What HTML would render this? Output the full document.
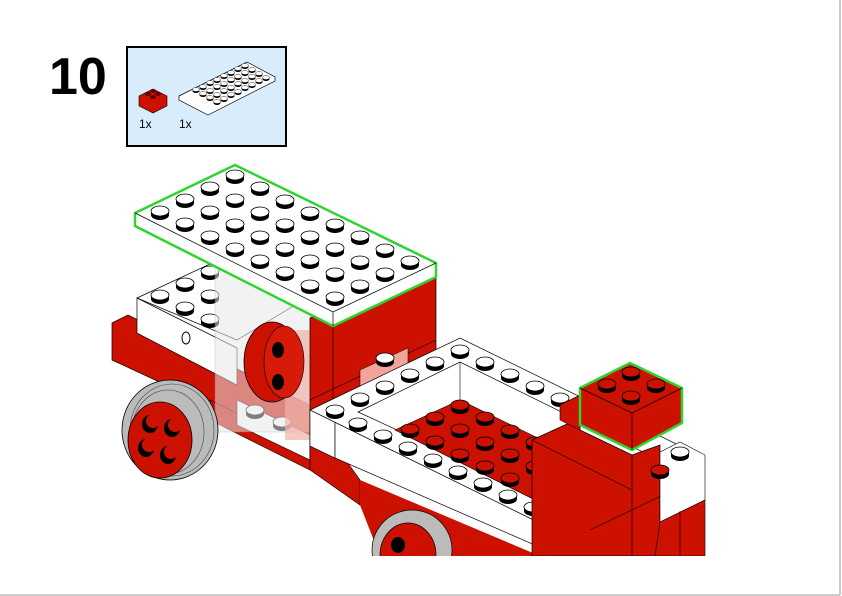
<!DOCTYPE html>
<html><head><meta charset="utf-8"><style>
html,body{margin:0;padding:0;background:#fff;}
body{width:842px;height:596px;overflow:hidden;position:relative;font-family:"Liberation Sans",sans-serif;}
</style></head><body>
<svg width="842" height="596" viewBox="0 0 842 596" xmlns="http://www.w3.org/2000/svg" style="position:absolute;left:0;top:0">
<defs>
<g id="sw"><ellipse cx="0" cy="4" rx="9" ry="5" fill="#000"/><rect x="-9" y="0" width="18" height="4" fill="#000"/><ellipse cx="0" cy="0" rx="9" ry="5" fill="#fff" stroke="#000" stroke-width="0.8"/></g>
<g id="sr"><ellipse cx="0" cy="4" rx="9" ry="5" fill="#000"/><rect x="-9" y="0" width="18" height="4" fill="#000"/><ellipse cx="0" cy="0" rx="9" ry="5" fill="#cc1100" stroke="#000" stroke-width="0.8"/></g>
<g id="ss"><ellipse cx="0" cy="3" rx="3.5" ry="2" fill="#000"/><ellipse cx="0" cy="1.5" rx="3.5" ry="2" fill="#fff" stroke="#000" stroke-width="0.4"/></g>
</defs>

<text x="49" y="94" font-size="52" font-weight="bold" font-family="Liberation Sans,sans-serif">10</text>
<rect x="127" y="47" width="159" height="99" fill="#d9ecfb" stroke="#000" stroke-width="2"/>
<polygon points="139,96 153,89 167,96 167,106 153,113 139,106" fill="#cc1100" stroke="#000" stroke-width="0.6"/>
<ellipse cx="148" cy="94" rx="3" ry="2" fill="#600"/><ellipse cx="158" cy="94" rx="3" ry="2" fill="#600"/><ellipse cx="153" cy="91" rx="3" ry="2" fill="#600"/><ellipse cx="153" cy="97" rx="3" ry="2" fill="#600"/>
<polygon points="179,96 247,62 275,77 275,81 208,115 179,100" fill="#fff" stroke="#000" stroke-width="0.7"/>
<g>
<use href="#ss" x="245" y="64"/><use href="#ss" x="238" y="67"/><use href="#ss" x="231" y="71"/><use href="#ss" x="224" y="74"/><use href="#ss" x="217" y="78"/><use href="#ss" x="210" y="81"/><use href="#ss" x="203" y="85"/><use href="#ss" x="196" y="88"/>
<use href="#ss" x="252" y="68"/><use href="#ss" x="245" y="71"/><use href="#ss" x="238" y="75"/><use href="#ss" x="231" y="78"/><use href="#ss" x="224" y="82"/><use href="#ss" x="217" y="85"/><use href="#ss" x="210" y="89"/><use href="#ss" x="203" y="92"/>
<use href="#ss" x="259" y="72"/><use href="#ss" x="252" y="75"/><use href="#ss" x="245" y="79"/><use href="#ss" x="238" y="82"/><use href="#ss" x="231" y="86"/><use href="#ss" x="224" y="89"/><use href="#ss" x="217" y="93"/><use href="#ss" x="210" y="96"/>
<use href="#ss" x="266" y="76"/><use href="#ss" x="259" y="79"/><use href="#ss" x="252" y="83"/><use href="#ss" x="245" y="86"/><use href="#ss" x="238" y="90"/><use href="#ss" x="231" y="93"/><use href="#ss" x="224" y="97"/><use href="#ss" x="217" y="100"/>
</g>
<text x="139" y="128" font-size="12">1x</text>
<text x="179" y="128" font-size="12">1x</text>

<!-- chassis left red -->
<polygon points="112,323 128,315 310,405 310,445 237,418 237,418 112,360" fill="#cc1100" stroke="#000" stroke-width="0.7"/>
<polygon points="210,400 310,450 310,470 210,420" fill="#cc1100" stroke="#000" stroke-width="0.6"/>
<!-- white cab block -->
<polygon points="137,298 240,250 320,290 237,340" fill="#fff" stroke="#000" stroke-width="0.7"/>
<polygon points="137,298 237,348 237,385 137,333" fill="#fff" stroke="#000" stroke-width="0.7"/>
<ellipse cx="186" cy="338" rx="4" ry="6" fill="#fff" stroke="#000"/>
<use href="#sw" x="160" y="295"/><use href="#sw" x="185" y="283"/><use href="#sw" x="210" y="271"/><use href="#sw" x="185" y="307"/><use href="#sw" x="210" y="295"/><use href="#sw" x="210" y="319"/>
<!-- white beam under -->
<polygon points="237,400 310,435 310,460 237,425" fill="#fff" stroke="#000" stroke-width="0.6"/>
<use href="#sw" x="255" y="410"/><use href="#sw" x="282" y="422"/>
<!-- translucent bricks -->
<rect x="215" y="262" width="95" height="170" fill="#e8e8e8" opacity="0.55" stroke="#999" stroke-width="0.5"/>
<rect x="285" y="330" width="25" height="110" fill="#f2b0a8" opacity="0.7"/>
<!-- red disc -->
<ellipse cx="272" cy="362" rx="28" ry="40" fill="#cc1100" stroke="#000" stroke-width="0.8"/>
<ellipse cx="284" cy="362" rx="20" ry="36" fill="#d81a08" stroke="#000" stroke-width="0.6"/>
<ellipse cx="278" cy="350" rx="6" ry="8" fill="#000"/><ellipse cx="278" cy="382" rx="6" ry="8" fill="#000"/>
<!-- front wheel -->
<ellipse cx="170" cy="430" rx="48" ry="50" fill="#bbb" stroke="#000" stroke-width="0.8"/>
<ellipse cx="172" cy="430" rx="42" ry="46" fill="none" stroke="#444" stroke-width="0.6"/>
<ellipse cx="168" cy="432" rx="36" ry="42" fill="none" stroke="#444" stroke-width="0.6"/>
<ellipse cx="160" cy="440" rx="32" ry="38" fill="#cc1100" stroke="#000" stroke-width="0.8"/>
<ellipse cx="150" cy="424" rx="8" ry="9" fill="#000"/><ellipse cx="172" cy="428" rx="8" ry="9" fill="#000"/><ellipse cx="146" cy="448" rx="8" ry="9" fill="#000"/><ellipse cx="168" cy="455" rx="8" ry="9" fill="#000"/>
<ellipse cx="153" cy="421" rx="7" ry="7" fill="#cc1100"/><ellipse cx="175" cy="425" rx="7" ry="7" fill="#cc1100"/><ellipse cx="149" cy="445" rx="7" ry="7" fill="#cc1100"/><ellipse cx="171" cy="452" rx="7" ry="7" fill="#cc1100"/>

<!-- cab red below plate -->
<polygon points="310,318 436,263 436,400 310,460" fill="#cc1100" stroke="#000" stroke-width="0.7"/>
<line x1="310" y1="400" x2="436" y2="340" stroke="#000" stroke-width="0.6"/>
<line x1="333" y1="326" x2="333" y2="450" stroke="#000" stroke-width="0.6"/>
<polygon points="360,370 408,348 408,385 360,400" fill="#f3a49a" stroke="#000" stroke-width="0.5"/>
<use href="#sw" x="385" y="358"/>

<!-- top plate -->
<polygon points="135,213 235,165 436,263 436,277 333,326 135,226" fill="#fff" stroke="#2fd42f" stroke-width="2.5" stroke-linejoin="round"/>
<polyline points="135,213 333,312 436,263" fill="none" stroke="#000" stroke-width="0.7"/>
<line x1="333" y1="312" x2="333" y2="326" stroke="#000" stroke-width="0.7"/>
<g>
<use href="#sw" x="235" y="175"/><use href="#sw" x="260" y="187"/><use href="#sw" x="285" y="200"/><use href="#sw" x="310" y="212"/><use href="#sw" x="335" y="224"/><use href="#sw" x="360" y="236"/><use href="#sw" x="385" y="249"/><use href="#sw" x="410" y="261"/>
<use href="#sw" x="210" y="187"/><use href="#sw" x="235" y="199"/><use href="#sw" x="260" y="212"/><use href="#sw" x="285" y="224"/><use href="#sw" x="310" y="236"/><use href="#sw" x="335" y="248"/><use href="#sw" x="360" y="261"/><use href="#sw" x="385" y="273"/>
<use href="#sw" x="185" y="199"/><use href="#sw" x="210" y="211"/><use href="#sw" x="235" y="224"/><use href="#sw" x="260" y="236"/><use href="#sw" x="285" y="248"/><use href="#sw" x="310" y="260"/><use href="#sw" x="335" y="273"/><use href="#sw" x="360" y="285"/>
<use href="#sw" x="160" y="211"/><use href="#sw" x="185" y="223"/><use href="#sw" x="210" y="236"/><use href="#sw" x="235" y="248"/><use href="#sw" x="260" y="260"/><use href="#sw" x="285" y="272"/><use href="#sw" x="310" y="285"/><use href="#sw" x="335" y="297"/>
</g>

<!-- bed -->
<polygon points="310,410 310,470 360,505 360,480" fill="#cc1100" stroke="#000" stroke-width="0.6"/>
<polygon points="310,410 335,422 335,458 310,446" fill="#fff" stroke="#000" stroke-width="0.6"/>
<polygon points="335,422 560,533 560,556 335,458" fill="#fff" stroke="#000" stroke-width="0.7"/>
<polygon points="360,480 540,556 380,556 360,505" fill="#cc1100"/>
<polygon points="310,410 460,338 705,458 560,533" fill="#fff" stroke="#000" stroke-width="0.7"/>
<polygon points="358,412 460,362 655,458 560,505" fill="#fff" stroke="#000" stroke-width="0.7"/>
<polygon points="395,430 460,400 640,488 575,520" fill="#cc1100" stroke="#000" stroke-width="0.6"/>
<line x1="460" y1="362" x2="460" y2="400" stroke="#000" stroke-width="0.6"/>
<g>
<use href="#sr" x="460" y="405"/><use href="#sr" x="435" y="417"/><use href="#sr" x="410" y="429"/>
<use href="#sr" x="485" y="417"/><use href="#sr" x="460" y="429"/><use href="#sr" x="435" y="441"/>
<use href="#sr" x="510" y="430"/><use href="#sr" x="485" y="442"/><use href="#sr" x="460" y="454"/>
<use href="#sr" x="535" y="442"/><use href="#sr" x="510" y="454"/><use href="#sr" x="485" y="466"/>
<use href="#sr" x="560" y="454"/><use href="#sr" x="535" y="466"/><use href="#sr" x="510" y="478"/>
</g>
<g>
<use href="#sw" x="335" y="410"/><use href="#sw" x="360" y="398"/><use href="#sw" x="385" y="386"/><use href="#sw" x="410" y="374"/><use href="#sw" x="435" y="362"/><use href="#sw" x="460" y="350"/>
<use href="#sw" x="485" y="362"/><use href="#sw" x="510" y="374"/><use href="#sw" x="535" y="386"/><use href="#sw" x="560" y="398"/>
<use href="#sw" x="358" y="423"/><use href="#sw" x="383" y="435"/><use href="#sw" x="408" y="447"/><use href="#sw" x="433" y="459"/><use href="#sw" x="458" y="471"/><use href="#sw" x="483" y="483"/><use href="#sw" x="508" y="495"/><use href="#sw" x="533" y="507"/><use href="#sw" x="556" y="520"/>
</g>
<!-- rear wheel -->
<ellipse cx="412" cy="550" rx="40" ry="40" fill="#bbb" stroke="#000" stroke-width="0.7"/>
<ellipse cx="408" cy="555" rx="28" ry="32" fill="#cc1100" stroke="#000" stroke-width="0.7"/>
<ellipse cx="398" cy="545" rx="7" ry="8" fill="#000"/>

<!-- right red stack -->
<polygon points="532,440 580,418 580,430 632,455 660,445 660,556 532,556" fill="#cc1100" stroke="#000" stroke-width="0.7"/>
<polygon points="560,405 580,395 580,430 560,420" fill="#cc1100" stroke="#000" stroke-width="0.6"/>
<line x1="532" y1="440" x2="632" y2="490" stroke="#000" stroke-width="0.6"/>
<line x1="632" y1="455" x2="632" y2="556" stroke="#000" stroke-width="0.6"/>
<line x1="590" y1="530" x2="705" y2="475" stroke="#000" stroke-width="0.6"/>
<polygon points="660,452 680,442 705,455 705,500 660,522" fill="#fff" stroke="#000" stroke-width="0.6"/>
<polygon points="660,522 705,500 705,556 655,556" fill="#cc1100" stroke="#000" stroke-width="0.6"/>
<line x1="680" y1="511" x2="680" y2="556" stroke="#000" stroke-width="0.6"/>
<use href="#sw" x="680" y="452"/><use href="#sr" x="660" y="470"/>
<!-- green brick -->
<polygon points="580,388 630,363 682,388 682,423 632,450 580,425" fill="#cc1100" stroke="#2fd42f" stroke-width="2.5" stroke-linejoin="round"/>
<polyline points="580,388 632,413 682,388" fill="none" stroke="#000" stroke-width="0.7"/>
<line x1="632" y1="413" x2="632" y2="450" stroke="#000" stroke-width="0.7"/>
<use href="#sr" x="631" y="372"/><use href="#sr" x="607" y="384"/><use href="#sr" x="656" y="384"/><use href="#sr" x="631" y="396"/>

<rect x="0" y="556" width="842" height="40" fill="#fff"/>
<line x1="840" y1="0" x2="840" y2="595" stroke="#bbb" stroke-width="1.5"/>
<line x1="0" y1="595" x2="840" y2="595" stroke="#bbb" stroke-width="1.5"/>
</svg>
</body></html>
